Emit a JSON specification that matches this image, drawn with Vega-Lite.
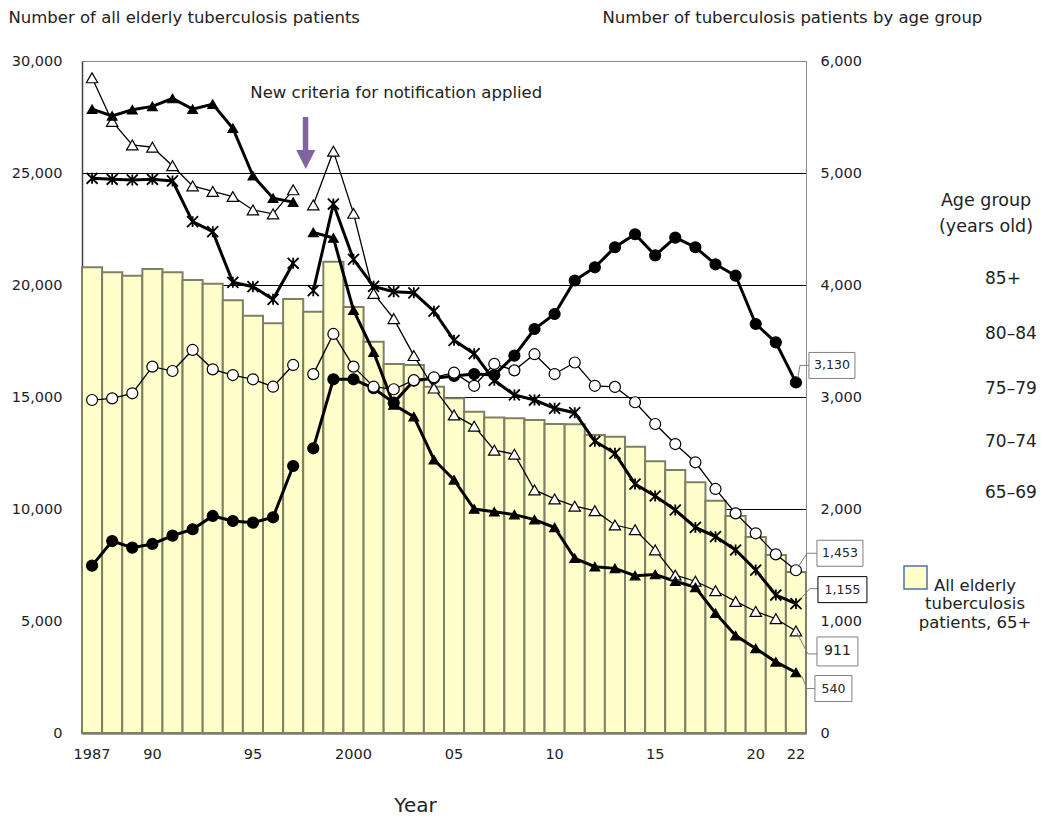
{
  "$schema": "https://vega.github.io/schema/vega-lite/v6.json",
  "width": 724,
  "height": 672,
  "autosize": {"type": "none"},
  "padding": {"left": 82, "top": 61, "right": 240, "bottom": 88},
  "background": "white",
  "config": {
    "font": "DejaVu Sans",
    "view": {"stroke": "#888888", "strokeWidth": 1},
    "axis": {"labelFont": "DejaVu Sans", "titleFont": "DejaVu Sans", "labelColor": "#222222", "titleColor": "#222222", "titleFontWeight": "normal", "labelFontSize": 14.5, "titleFontSize": 16.5, "ticks": false},
    "legend": {"labelFont": "DejaVu Sans", "titleFont": "DejaVu Sans", "labelColor": "#222222", "titleColor": "#222222", "titleFontWeight": "normal"}
  },
  "data": {"values": [
    {"year": 1987, "total": 20790, "85+": 1494, "80–84": 2973, "75–79": 4953, "70–74": 5850, "65–69": 5570},
    {"year": 1988, "total": 20567, "85+": 1714, "80–84": 2988, "75–79": 4944, "70–74": 5460, "65–69": 5510},
    {"year": 1989, "total": 20415, "85+": 1655, "80–84": 3033, "75–79": 4938, "70–74": 5250, "65–69": 5565},
    {"year": 1990, "total": 20714, "85+": 1688, "80–84": 3271, "75–79": 4944, "70–74": 5230, "65–69": 5595},
    {"year": 1991, "total": 20567, "85+": 1762, "80–84": 3232, "75–79": 4929, "70–74": 5065, "65–69": 5665},
    {"year": 1992, "total": 20223, "85+": 1819, "80–84": 3420, "75–79": 4566, "70–74": 4885, "65–69": 5570},
    {"year": 1993, "total": 20060, "85+": 1938, "80–84": 3247, "75–79": 4476, "70–74": 4835, "65–69": 5615},
    {"year": 1994, "total": 19315, "85+": 1893, "80–84": 3196, "75–79": 4024, "70–74": 4790, "65–69": 5400},
    {"year": 1995, "total": 18629, "85+": 1878, "80–84": 3158, "75–79": 3985, "70–74": 4670, "65–69": 4975},
    {"year": 1996, "total": 18290, "85+": 1926, "80–84": 3092, "75–79": 3872, "70–74": 4635, "65–69": 4775},
    {"year": 1997, "total": 19375, "85+": 2384, "80–84": 3286, "75–79": 4194, "70–74": 4850, "65–69": 4740},
    {"year": 1998, "total": 18808, "85+": 2542, "80–84": 3204, "75–79": 3949, "70–74": 4715, "65–69": 4470},
    {"year": 1999, "total": 21040, "85+": 3158, "80–84": 3563, "75–79": 4723, "70–74": 5195, "65–69": 4420},
    {"year": 2000, "total": 19020, "85+": 3158, "80–84": 3271, "75–79": 4229, "70–74": 4640, "65–69": 3775},
    {"year": 2001, "total": 17470, "85+": 3078, "80–84": 3092, "75–79": 3988, "70–74": 3925, "65–69": 3400},
    {"year": 2002, "total": 16473, "85+": 2949, "80–84": 3069, "75–79": 3940, "70–74": 3700, "65–69": 2930},
    {"year": 2003, "total": 16429, "85+": 3146, "80–84": 3150, "75–79": 3930, "70–74": 3370, "65–69": 2825},
    {"year": 2004, "total": 15461, "85+": 3167, "80–84": 3176, "75–79": 3766, "70–74": 3080, "65–69": 2440},
    {"year": 2005, "total": 14942, "85+": 3188, "80–84": 3217, "75–79": 3506, "70–74": 2840, "65–69": 2260},
    {"year": 2006, "total": 14345, "85+": 3205, "80–84": 3100, "75–79": 3387, "70–74": 2740, "65–69": 2000},
    {"year": 2007, "total": 14080, "85+": 3196, "80–84": 3295, "75–79": 3149, "70–74": 2525, "65–69": 1975},
    {"year": 2008, "total": 14048, "85+": 3369, "80–84": 3238, "75–79": 3018, "70–74": 2490, "65–69": 1950},
    {"year": 2009, "total": 13973, "85+": 3607, "80–84": 3382, "75–79": 2973, "70–74": 2170, "65–69": 1905},
    {"year": 2010, "total": 13800, "85+": 3741, "80–84": 3205, "75–79": 2899, "70–74": 2090, "65–69": 1835},
    {"year": 2011, "total": 13780, "85+": 4040, "80–84": 3308, "75–79": 2860, "70–74": 2025, "65–69": 1560},
    {"year": 2012, "total": 13304, "85+": 4158, "80–84": 3100, "75–79": 2605, "70–74": 1985, "65–69": 1485},
    {"year": 2013, "total": 13229, "85+": 4337, "80–84": 3090, "75–79": 2497, "70–74": 1857, "65–69": 1470},
    {"year": 2014, "total": 12783, "85+": 4453, "80–84": 2953, "75–79": 2223, "70–74": 1815, "65–69": 1405},
    {"year": 2015, "total": 12130, "85+": 4265, "80–84": 2759, "75–79": 2116, "70–74": 1635, "65–69": 1415},
    {"year": 2016, "total": 11741, "85+": 4423, "80–84": 2580, "75–79": 1991, "70–74": 1410, "65–69": 1355},
    {"year": 2017, "total": 11190, "85+": 4337, "80–84": 2417, "75–79": 1836, "70–74": 1355, "65–69": 1300},
    {"year": 2018, "total": 10370, "85+": 4185, "80–84": 2179, "75–79": 1753, "70–74": 1270, "65–69": 1070},
    {"year": 2019, "total": 9688, "85+": 4083, "80–84": 1961, "75–79": 1634, "70–74": 1175, "65–69": 870},
    {"year": 2020, "total": 8750, "85+": 3652, "80–84": 1783, "75–79": 1455, "70–74": 1085, "65–69": 755},
    {"year": 2021, "total": 7946, "85+": 3488, "80–84": 1595, "75–79": 1232, "70–74": 1020, "65–69": 635},
    {"year": 2022, "total": 7189, "85+": 3130, "80–84": 1453, "75–79": 1155, "70–74": 911, "65–69": 540}
  ]},
  "encoding": {
    "x": {"field": "year", "type": "ordinal", "scale": {"type": "band", "paddingInner": 0, "paddingOuter": 0},
      "axis": {"title": "Year", "titleFontSize": 20, "titleX": 333, "titleY": 72, "titleAlign": "center", "titleBaseline": "middle", "labelAngle": 0, "labelPadding": 14, "domainColor": "#404040", "domainWidth": 2,
        "labelExpr": "datum.value == 1987 ? '1987' : datum.value == 1990 ? '90' : datum.value == 1995 ? '95' : datum.value == 2000 ? '2000' : datum.value == 2005 ? '05' : datum.value == 2010 ? '10' : datum.value == 2015 ? '15' : datum.value == 2020 ? '20' : datum.value == 2022 ? '22' : ''"}}
  },
  "layer": [
    {
      "mark": {"type": "bar", "stroke": "#7f7f63", "strokeWidth": 2},
      "encoding": {
        "y": {"field": "total", "type": "quantitative", "scale": {"domain": [0, 30000], "nice": false},
          "axis": {"title": "Number of all elderly tuberculosis patients", "titleAngle": 0, "titleX": -74, "titleY": -44, "titleAlign": "left", "titleBaseline": "middle",
            "values": [0, 5000, 10000, 15000, 20000, 25000, 30000], "format": ",d", "labelPadding": 20, "domainColor": "#404040", "domainWidth": 1.5,
            "grid": true, "gridColor": {"condition": {"test": "datum.value === 30000", "value": "#888888"}, "value": "black"}, "gridWidth": 1, "gridOpacity": 1}},
        "fill": {"datum": "All elderly tuberculosis patients, 65+", "type": "nominal", "scale": {"range": ["#FFFFCC"]},
          "legend": {"orient": "none", "legendX": 821, "legendY": 504, "title": null, "symbolType": "square", "symbolSize": 529, "symbolStrokeColor": "#4F6FA8", "symbolStrokeWidth": 1.5,
            "labelExpr": "['All elderly', 'tuberculosis', 'patients, 65+']", "labelAlign": "center", "labelOffset": 47, "labelFontSize": 16.5, "labelBaseline": "top", "labelLimit": 300}}
      }
    },
    {
      "transform": [{"filter": "datum.year === 1998"}],
      "mark": {"type": "point", "filled": true, "fill": "#8064A2", "stroke": null, "size": 4, "opacity": 1, "shape": "M-10.5,-56H-5V-23H-10.5ZM-17,-23H2L-7.5,-4Z"},
      "encoding": {
        "y": {"datum": 25000, "type": "quantitative", "scale": {"domain": [0, 30000], "nice": false}, "axis": null}
      }
    },
    {
      "transform": [{"filter": "datum.year === 1998"}],
      "mark": {"type": "text", "align": "center", "baseline": "middle", "dx": 83, "dy": -80, "fontSize": 16.5, "color": "#222222", "text": "New criteria for notification applied"},
      "encoding": {
        "y": {"datum": 25000, "type": "quantitative", "scale": {"domain": [0, 30000], "nice": false}, "axis": null}
      }
    },
    {
      "transform": [
        {"fold": ["85+", "80–84", "75–79", "70–74", "65–69"], "as": ["group", "value"]},
        {"calculate": "datum.year >= 1998 ? 'after' : 'before'", "as": "seg"}
      ],
      "mark": {"type": "line", "color": "black"},
      "encoding": {
        "y": {"field": "value", "type": "quantitative", "scale": {"domain": [0, 6000], "nice": false},
          "axis": {"orient": "right", "title": "Number of tuberculosis patients by age group", "titleAngle": 0, "titleX": -204, "titleY": -44, "titleAlign": "left", "titleBaseline": "middle",
            "values": [0, 1000, 2000, 3000, 4000, 5000, 6000], "format": ",d", "labelPadding": 14, "domainColor": "#888888", "grid": false}},
        "detail": [{"field": "group"}, {"field": "seg"}],
        "strokeWidth": {"condition": {"test": "datum.group === '80–84' || datum.group === '70–74'", "value": 1.3}, "value": 3}
      }
    },
    {
      "transform": [
        {"fold": ["85+", "80–84", "75–79", "70–74", "65–69"], "as": ["group", "value"]}
      ],
      "mark": {"type": "point", "filled": true, "stroke": "black", "opacity": 1},
      "encoding": {
        "y": {"field": "value", "type": "quantitative", "scale": {"domain": [0, 6000], "nice": false}, "axis": null},
        "shape": {"field": "group", "type": "nominal",
          "scale": {"domain": ["85+", "80–84", "75–79", "70–74", "65–69"], "range": ["circle", "circle", "M-1,-1L1,1M-1,1L1,-1M0,-1L0,1", "triangle-up", "triangle-up"]},
          "legend": {"orient": "none", "legendX": 853, "legendY": 131, "title": ["Age group", "(years old)"], "titleAnchor": "middle", "titleFontSize": 17.5, "titleLineHeight": 26, "titlePadding": 21,
            "labelFontSize": 17, "labelOffset": 5, "symbolSize": 1849, "rowPadding": 6, "symbolStrokeColor": "black",
            "encode": {"symbols": {
              "shape": {"value": {"expr": "datum.value === '85+' ? 'M-1,0L1,0M-0.23,0A0.23,0.23,0,1,0,0.23,0A0.23,0.23,0,1,0,-0.23,0Z' : datum.value === '80–84' ? 'M-1,0L-0.23,0M0.23,0L1,0M-0.23,0A0.23,0.23,0,1,0,0.23,0A0.23,0.23,0,1,0,-0.23,0Z' : datum.value === '75–79' ? 'M-1,0L1,0M-0.24,-0.24L0.24,0.24M-0.24,0.24L0.24,-0.24M0,-0.28L0,0.28' : datum.value === '70–74' ? 'M-1,0L-0.15,0M0.15,0L1,0M0,-0.24L0.27,0.2L-0.27,0.2Z' : 'M-1,0L1,0M0,-0.24L0.27,0.2L-0.27,0.2Z'"}},
              "fill": {"value": {"expr": "(datum.value === '85+' || datum.value === '65–69') ? 'black' : 'white'"}},
              "stroke": {"value": "black"},
              "strokeWidth": {"value": {"expr": "(datum.value === '80–84' || datum.value === '70–74') ? 1.3 : 3"}},
              "size": {"value": 1849},
              "opacity": {"value": 1}
            }}}},
        "fill": {"condition": {"test": "datum.group === '85+' || datum.group === '65–69'", "value": "black"}, "value": "white"},
        "size": {"condition": [
          {"test": "datum.group === '85+'", "value": 121},
          {"test": "datum.group === '80–84'", "value": 121},
          {"test": "datum.group === '75–79'", "value": 120},
          {"test": "datum.group === '70–74'", "value": 130}], "value": 95},
        "strokeWidth": {"condition": {"test": "datum.group === '75–79'", "value": 1.8}, "value": 1.2}
      }
    },
    {
      "transform": [
        {"fold": ["85+", "80–84", "75–79", "70–74", "65–69"], "as": ["group", "value"]},
        {"filter": "datum.year === 2022"}
      ],
      "mark": {"type": "point", "filled": false, "stroke": "#808080", "strokeWidth": 1, "size": 4, "opacity": 1,
        "shape": {"expr": "datum.group === '85+' ? 'M2,-5L4,-17H13' : datum.group === '80–84' ? 'M2,-3L11,-17H21' : datum.group === '75–79' ? 'M4,-4L14,-15H22' : datum.group === '70–74' ? 'M1,2L12,23H21' : 'M6,4L11,16H19'"}},
      "encoding": {
        "y": {"field": "value", "type": "quantitative", "scale": {"domain": [0, 6000], "nice": false}, "axis": null}
      }
    },
    {
      "transform": [
        {"fold": ["85+", "80–84", "75–79", "70–74", "65–69"], "as": ["group", "value"]},
        {"filter": "datum.year === 2022"}
      ],
      "mark": {"type": "point", "filled": true, "fill": "white", "strokeWidth": 1, "size": 4, "opacity": 1,
        "shape": {"expr": "datum.group === '85+' ? 'M13,-30H59V-4H13Z' : datum.group === '80–84' ? 'M21,-30H67V-4H21Z' : datum.group === '75–79' ? 'M22,-27H71V-1H22Z' : datum.group === '70–74' ? 'M21,6H62V35H21Z' : 'M19,3H56V29H19Z'"}},
      "encoding": {
        "y": {"field": "value", "type": "quantitative", "scale": {"domain": [0, 6000], "nice": false}, "axis": null},
        "stroke": {"condition": {"test": "datum.group === '75–79'", "value": "black"}, "value": "#808080"}
      }
    },
    {
      "transform": [
        {"fold": ["85+", "80–84", "75–79", "70–74", "65–69"], "as": ["group", "value"]},
        {"filter": "datum.year === 2022"}
      ],
      "mark": {"type": "text", "align": "center", "baseline": "middle", "color": "#222222",
        "dx": {"expr": "datum.group === '85+' ? 36 : datum.group === '80–84' ? 44 : datum.group === '75–79' ? 46.5 : datum.group === '70–74' ? 41.5 : 37.5"},
        "dy": {"expr": "datum.group === '85+' ? -17 : datum.group === '80–84' ? -17 : datum.group === '75–79' ? -14 : datum.group === '70–74' ? 20.5 : 16"}},
      "encoding": {
        "y": {"field": "value", "type": "quantitative", "scale": {"domain": [0, 6000], "nice": false}, "axis": null},
        "text": {"field": "value", "type": "quantitative", "format": ","},
        "size": {"condition": {"test": "datum.group === '70–74'", "value": 14}, "value": 12.5}
      }
    }
  ],
  "resolve": {"scale": {"y": "independent"}}
}
